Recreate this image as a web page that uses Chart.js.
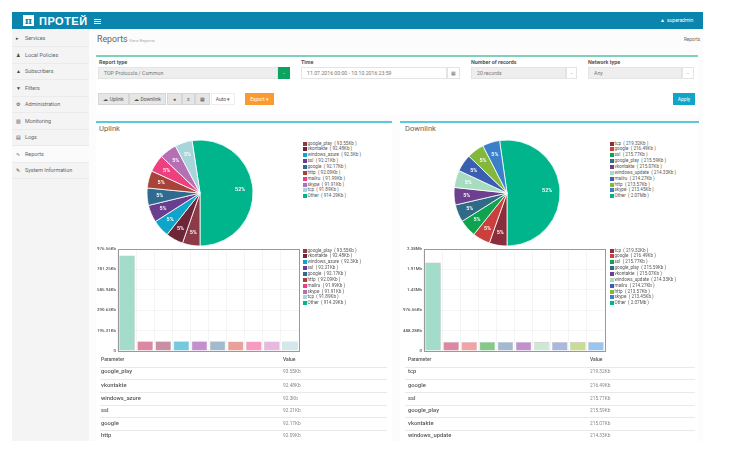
<!DOCTYPE html>
<html>
<head>
<meta charset="utf-8">
<title>Reports</title>
<script src="https://cdn.jsdelivr.net/npm/chart.js@4/dist/chart.umd.min.js"></script>
<style>
  html, body { margin: 0; padding: 0; background: #fff; }
  body { width: 734px; height: 455px; overflow: hidden; position: relative; font-family: Roboto, "Open Sans", sans-serif; color: #555; filter: blur(0.35px); }
  .abs, canvas { position: absolute; }
  .txt { position: absolute; white-space: nowrap; line-height: 1; }
  #top { left: 12px; top: 12px; width: 691px; height: 17px; background: #0b84ae; }
  #side { left: 12px; top: 29px; width: 77px; height: 412px; background: #f4f4f4; }
  #main { left: 89px; top: 29px; width: 614px; height: 412px; background: #fcfcfc; }
  .nav { position: absolute; left: 12px; width: 77px; height: 16px; border-bottom: 1px solid #ebebeb; font-size: 5.4px; color: #666; }
  .nav b { position: absolute; left: 4px; top: 5px; font-weight: normal; font-size: 5px; color: #444; }
  .nav span { position: absolute; left: 13px; top: 5px; }
  .panel { position: absolute; background: #fff; }
  .rule { position: absolute; height: 2px; }
  .lbl { font-size: 5.4px; font-weight: 700; color: #555; }
  .box { position: absolute; height: 12px; background: #eee; border: 1px solid #e4e4e4; box-sizing: border-box; font-size: 5.2px; color: #777; line-height: 10px; padding-left: 5px; }
  .btn { position: absolute; top: 93px; height: 12px; box-sizing: border-box; background: #e6e6e6; border: 1px solid #d5d5d5; font-size: 5px; color: #555; line-height: 10px; text-align: center; }
  .legend { position: absolute; font-size: 4.6px; color: #555; }
  .legend div { height: 5.87px; line-height: 5.87px; white-space: nowrap; position: relative; padding-left: 5px; }
  .legend i { position: absolute; left: 0; top: 1px; width: 4px; height: 4px; }
  .hr { position: absolute; height: 1px; background: #e9e9e9; }
  .param { font-size: 5.8px; font-weight: 500; color: #555; }
  .val { font-size: 4.8px; color: #888; }
</style>
</head>
<body>
<div id="top" class="abs"></div>
<div id="side" class="abs"></div>
<div id="main" class="abs"></div>

<div class="abs" style="left:23px;top:15px;width:11px;height:11px;background:#fff;color:#0b84ae;font:700 10px/11px 'DejaVu Serif';text-align:center">π</div>
<div class="txt" style="left:39px;top:15.5px;font:700 11px/11px 'Liberation Sans Narrow','Liberation Sans';color:#fff;letter-spacing:.5px">ПРОТЕЙ</div>
<div class="abs" style="left:94px;top:19px;width:7px;height:1px;background:#fff;box-shadow:0 2px 0 #fff,0 4px 0 #fff"></div>
<div class="txt" style="left:660px;top:18px;font-size:5px;color:#fff">▲</div>
<div class="txt" style="left:667px;top:18px;font-size:5px;color:#fff">superadmin</div>

<div class="txt" style="left:97px;top:35px;font-size:8.8px;color:#666">Reports</div>
<div class="txt" style="left:129px;top:38.5px;font-size:4.4px;color:#aaa">View Reports</div>
<div class="txt" style="left:684px;top:38px;font-size:4.6px;color:#666">Reports</div>

<div class="panel" style="left:96px;top:55px;width:602px;height:60px"></div>
<div class="rule" style="left:96px;top:54.5px;width:602px;background:#7fd0bb"></div>
<div class="txt lbl" style="left:99px;top:60px">Report type</div>
<div class="box" style="left:98px;top:67px;width:180px">TOP Protocols / Common</div>
<div class="box" style="left:278px;top:67px;width:12px;background:#0aa35f;border-color:#0aa35f;color:#fff;padding:0;text-align:center">-</div>
<div class="txt lbl" style="left:301px;top:60px">Time</div>
<div class="box" style="left:301px;top:67px;width:146px;background:#fff">11.07.2016 00:00 - 10.10.2016 23:59</div>
<div class="box" style="left:447px;top:67px;width:13px;background:#fff;padding:0;text-align:center">▦</div>
<div class="txt lbl" style="left:471px;top:60px">Number of records</div>
<div class="box" style="left:471px;top:67px;width:95px">20 records</div>
<div class="box" style="left:566px;top:67px;width:11px;background:#fff;padding:0;text-align:center">-</div>
<div class="txt lbl" style="left:588px;top:60px">Network type</div>
<div class="box" style="left:588px;top:67px;width:94px">Any</div>
<div class="box" style="left:682px;top:67px;width:12px;background:#fff;padding:0;text-align:center">-</div>

<div class="btn" style="left:98px;width:31px">☁ Uplink</div>
<div class="btn" style="left:129px;width:37px">☁ Downlink</div>
<div class="btn" style="left:167px;width:15px">●</div>
<div class="btn" style="left:182px;width:13px">≡</div>
<div class="btn" style="left:195px;width:15px">▦</div>
<div class="btn" style="left:211px;width:24px;background:#fff;border-color:#eee">Auto ▾</div>
<div class="btn" style="left:245px;width:29px;background:#fb9a2e;border-color:#fb9a2e;color:#fff">Export ▾</div>
<div class="btn" style="left:673px;width:22px;background:#0ea5c8;border-color:#0ea5c8;color:#fff">Apply</div>

<div class="panel" style="left:96px;top:121px;width:296px;height:320px"></div>
<div class="panel" style="left:400px;top:121px;width:298px;height:320px"></div>
<div class="rule" style="left:96px;top:120.5px;width:296px;background:#5cc8de"></div>
<div class="rule" style="left:400px;top:120.5px;width:299px;background:#5cc8de"></div>
<div class="txt" style="left:99px;top:125px;font-size:7.6px;color:#666">Uplink</div>
<div class="txt" style="left:405px;top:125px;font-size:7.6px;color:#666">Downlink</div>

<canvas id="pieUp" style="left:144px;top:137px" width="112" height="112"></canvas>
<canvas id="pieDown" style="left:451px;top:137px" width="112" height="112"></canvas>
<canvas id="barUp" style="left:90px;top:244px" width="214" height="112"></canvas>
<canvas id="barDown" style="left:396px;top:244px" width="214" height="112"></canvas>

<script>
const navItems = ['Services', 'Local Policies', 'Subscribers', 'Filters', 'Administration', 'Monitoring', 'Logs', 'Reports', 'System Information'];
const navIcons = ['▸', '♟', '▲', '▼', '⚙', '▥', '▤', '∿', '✎'];

const upNames = ['Other', 'google_play', 'vkontakte', 'windows_azure', 'ssl', 'google', 'http', 'mailru', 'skype', 'tcp'];
const upValues = [914.29, 93.55, 92.48, 92.3, 92.21, 92.17, 92.09, 91.99, 91.91, 91.89];
const upLabels = ['914.29Kb', '93.55Kb', '92.48Kb', '92.3Kb', '92.21Kb', '92.17Kb', '92.09Kb', '91.99Kb', '91.91Kb', '91.89Kb'];
const upColors = ['#00b48c', '#8c3a48', '#6d2638', '#0ea5c9', '#6b3d8f', '#2f6b8f', '#a8433a', '#ee3f7f', '#b56fb5', '#a8d5da'];
const upBarColors = ['#a3dccb', '#dc88a2', '#c88ea2', '#74c8e0', '#c48fcc', '#a2bace', '#e8a09a', '#f79cc0', '#e6bade', '#d2e8ec'];
const upTicks = ['0', '195.31Kb', '390.63Kb', '585.94Kb', '781.25Kb', '976.56Kb'];
const upStep = 195.312;

const downNames = ['Other', 'tcp', 'google', 'ssl', 'google_play', 'vkontakte', 'windows_update', 'mailru', 'http', 'skype'];
const downValues = [2119.68, 219.32, 216.49, 215.77, 215.59, 215.07, 214.33, 214.27, 213.57, 213.45];
const downLabels = ['2.07Mb', '219.32Kb', '216.49Kb', '215.77Kb', '215.59Kb', '215.07Kb', '214.33Kb', '214.27Kb', '213.57Kb', '213.45Kb'];
const downColors = ['#00b48c', '#8a2e3c', '#c9403c', '#0ea44f', '#2f6b86', '#6d3f8f', '#a8dcc0', '#3a5fb0', '#84b83c', '#3a7fc8'];
const downBarColors = ['#a3dccb', '#dc88a2', '#f0a4a6', '#84c88a', '#a4b9d0', '#c290cc', '#cfe8d6', '#aab8e0', '#c8dc92', '#98c6f2'];
const downTicks = ['0', '488.28Kb', '976.56Kb', '1.43Mb', '1.91Mb', '2.38Mb'];
const downStep = 488.28;

// top rows of each table, same order as the legends
const tableRows = 6;

function el(cls, css, text) {
  const d = document.createElement('div');
  d.className = cls;
  d.style.cssText = css;
  if (text !== undefined) d.textContent = text;
  document.body.appendChild(d);
  return d;
}

navItems.forEach((name, i) => {
  const n = el('nav', `top:${30 + i * 16.5}px;` + (name === 'Reports' ? 'background:#fbfbfb' : ''));
  n.innerHTML = `<b>${navIcons[i]}</b><span>${name}</span>`;
});

// legend list: Other goes last, as on the page
function legend(x, y, names, labels, colors) {
  const box = el('legend', `left:${x}px;top:${y}px`);
  const order = names.map((_, i) => i).slice(1).concat(0);
  order.forEach(i => {
    const row = document.createElement('div');
    row.innerHTML = `<i style="background:${colors[i]}"></i>${names[i]} &nbsp;( ${labels[i]} )`;
    box.appendChild(row);
  });
}

function table(x, xVal, lineX, lineW, names, labels) {
  el('txt param', `left:${x}px;top:356.5px;font-size:5px`, 'Parameter');
  el('txt param', `left:${xVal}px;top:356.5px;font-size:5px`, 'Value');
  const rowY = [369, 383, 396, 408, 421, 433];
  const lineY = [367, 379, 392, 405, 417, 430];
  for (let i = 0; i < tableRows; i++) {
    el('hr', `left:${lineX}px;top:${lineY[i]}px;width:${lineW}px`);
    el('txt param', `left:${x}px;top:${rowY[i]}px`, names[i + 1]);
    el('txt val', `left:${xVal}px;top:${rowY[i] + 0.5}px`, labels[i + 1]);
  }
}

const percentLabels = {
  id: 'percentLabels',
  afterDatasetsDraw(chart) {
    const ctx = chart.ctx;
    const values = chart.data.datasets[0].data;
    const total = values.reduce((a, b) => a + b, 0);
    ctx.save();
    ctx.fillStyle = '#fff';
    ctx.font = '600 5.4px Roboto';
    ctx.textAlign = 'center';
    ctx.textBaseline = 'middle';
    chart.getDatasetMeta(0).data.forEach((arc, i) => {
      const mid = (arc.startAngle + arc.endAngle) / 2;
      const r = arc.outerRadius * 0.76;
      ctx.fillText(Math.round(values[i] / total * 100) + '%', arc.x + Math.cos(mid) * r, arc.y + Math.sin(mid) * r);
    });
    ctx.restore();
  },
};

const plotFrame = {
  id: 'plotFrame',
  afterDatasetsDraw(chart) {
    const a = chart.chartArea;
    chart.ctx.save();
    chart.ctx.strokeStyle = '#999';
    chart.ctx.lineWidth = 1;
    chart.ctx.strokeRect(Math.round(a.left) + 0.5, Math.round(a.top) + 0.5, Math.round(a.width), Math.round(a.height));
    chart.ctx.restore();
  },
};

function pie(id, names, values, colors) {
  const total = values.reduce((a, b) => a + b, 0);
  new Chart(document.getElementById(id), {
    type: 'pie',
    data: {
      labels: names,
      datasets: [{ data: values, backgroundColor: colors, borderColor: '#fff', borderWidth: 0.8 }],
    },
    options: {
      responsive: false,
      animation: false,
      // big slice ends exactly at 6 o'clock
      rotation: 180 - values[0] / total * 360,
      radius: 53,
      plugins: { legend: { display: false }, tooltip: { enabled: false } },
    },
    plugins: [percentLabels],
  });
}

function bars(id, names, values, colors, ticks, step, axisWidth) {
  new Chart(document.getElementById(id), {
    type: 'bar',
    data: {
      labels: names,
      datasets: [{
        data: values,
        backgroundColor: colors,
        borderColor: 'rgba(90,90,90,0.35)',
        borderWidth: 0.6,
        barPercentage: 0.87,
        categoryPercentage: 1,
      }],
    },
    options: {
      responsive: false,
      animation: false,
      layout: { padding: { top: 5, bottom: 5, right: 5, left: 0 } },
      plugins: { legend: { display: false }, tooltip: { enabled: false } },
      scales: {
        x: {
          ticks: { display: false },
          grid: { color: 'rgba(0,0,0,0.04)', drawTicks: false },
          border: { display: false },
        },
        y: {
          min: 0,
          max: step * (ticks.length - 1),
          afterFit: axis => { axis.width = axisWidth; },
          ticks: {
            stepSize: step,
            color: '#555',
            padding: 2,
            font: { size: 4.4, family: 'Roboto', weight: '500' },
            callback: v => ticks[Math.round(v / step)],
          },
          grid: { color: 'rgba(0,0,0,0.04)', drawTicks: false },
          border: { display: false },
        },
      },
    },
    plugins: [plotFrame],
  });
}

pie('pieUp', upNames, upValues, upColors);
pie('pieDown', downNames, downValues, downColors);
bars('barUp', upNames, upValues, upBarColors, upTicks, upStep, 28);
bars('barDown', downNames, downValues, downBarColors, downTicks, downStep, 28);

legend(302.5, 140.5, upNames, upLabels, upColors);
legend(302.5, 247.5, upNames, upLabels, upColors);
legend(609.5, 140.5, downNames, downLabels, downColors);
legend(609.5, 247.5, downNames, downLabels, downColors);

table(101, 283, 100, 287, upNames, upLabels);
table(408, 590, 405, 290, downNames, downLabels);
</script>
</body>
</html>
